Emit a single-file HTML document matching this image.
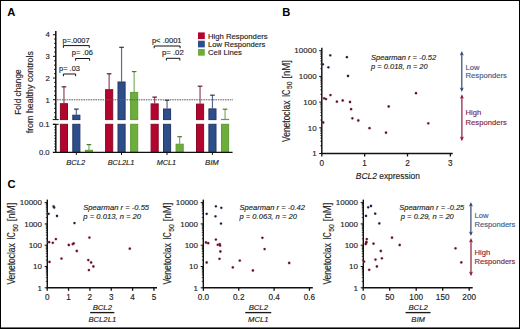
<!DOCTYPE html>
<html><head><meta charset="utf-8"><style>
html,body{margin:0;padding:0;background:#fff;}
body{width:520px;height:329px;overflow:hidden;position:relative;}
svg{display:block;}
#bd{position:absolute;left:0;top:0;}
text{font-family:"Liberation Sans",sans-serif;stroke:currentColor;stroke-width:0.14px;}
</style></head><body>
<svg width="520" height="329" viewBox="0 0 520 329">
<rect width="520" height="329" fill="#fff"/>
<text x="7.20" y="15.90" font-size="11.2" text-anchor="start" fill="#000" color="#000" font-weight="bold" style="stroke:none">A</text>
<text x="282.20" y="16.10" font-size="11.2" text-anchor="start" fill="#000" color="#000" font-weight="bold" style="stroke:none">B</text>
<text x="7.40" y="187.80" font-size="11.2" text-anchor="start" fill="#000" color="#000" font-weight="bold" style="stroke:none">C</text>
<line x1="55.80" y1="31.00" x2="55.80" y2="119.60" stroke="#111" stroke-width="1.5" />
<line x1="55.80" y1="124.30" x2="55.80" y2="152.40" stroke="#111" stroke-width="1.5" />
<line x1="52.70" y1="119.60" x2="58.70" y2="119.60" stroke="#111" stroke-width="1" />
<line x1="52.70" y1="124.30" x2="58.70" y2="124.30" stroke="#111" stroke-width="1" />
<line x1="53.00" y1="99.70" x2="55.80" y2="99.70" stroke="#111" stroke-width="1" />
<text x="49.80" y="102.50" font-size="7.7" text-anchor="end" fill="#222222" color="#222222" >1</text>
<line x1="53.00" y1="78.03" x2="55.80" y2="78.03" stroke="#111" stroke-width="1" />
<text x="49.80" y="80.83" font-size="7.7" text-anchor="end" fill="#222222" color="#222222" >2</text>
<line x1="53.00" y1="56.36" x2="55.80" y2="56.36" stroke="#111" stroke-width="1" />
<text x="49.80" y="59.16" font-size="7.7" text-anchor="end" fill="#222222" color="#222222" >3</text>
<line x1="53.00" y1="34.69" x2="55.80" y2="34.69" stroke="#111" stroke-width="1" />
<text x="49.80" y="37.49" font-size="7.7" text-anchor="end" fill="#222222" color="#222222" >4</text>
<line x1="54.00" y1="117.04" x2="55.80" y2="117.04" stroke="#111" stroke-width="0.9" />
<line x1="54.00" y1="112.70" x2="55.80" y2="112.70" stroke="#111" stroke-width="0.9" />
<line x1="54.00" y1="108.37" x2="55.80" y2="108.37" stroke="#111" stroke-width="0.9" />
<line x1="54.00" y1="104.03" x2="55.80" y2="104.03" stroke="#111" stroke-width="0.9" />
<line x1="54.00" y1="95.37" x2="55.80" y2="95.37" stroke="#111" stroke-width="0.9" />
<line x1="54.00" y1="91.03" x2="55.80" y2="91.03" stroke="#111" stroke-width="0.9" />
<line x1="54.00" y1="86.70" x2="55.80" y2="86.70" stroke="#111" stroke-width="0.9" />
<line x1="54.00" y1="82.36" x2="55.80" y2="82.36" stroke="#111" stroke-width="0.9" />
<line x1="54.00" y1="73.70" x2="55.80" y2="73.70" stroke="#111" stroke-width="0.9" />
<line x1="54.00" y1="69.36" x2="55.80" y2="69.36" stroke="#111" stroke-width="0.9" />
<line x1="54.00" y1="65.03" x2="55.80" y2="65.03" stroke="#111" stroke-width="0.9" />
<line x1="54.00" y1="60.69" x2="55.80" y2="60.69" stroke="#111" stroke-width="0.9" />
<line x1="54.00" y1="52.03" x2="55.80" y2="52.03" stroke="#111" stroke-width="0.9" />
<line x1="54.00" y1="47.69" x2="55.80" y2="47.69" stroke="#111" stroke-width="0.9" />
<line x1="54.00" y1="43.36" x2="55.80" y2="43.36" stroke="#111" stroke-width="0.9" />
<line x1="54.00" y1="39.02" x2="55.80" y2="39.02" stroke="#111" stroke-width="0.9" />
<line x1="54.20" y1="149.59" x2="55.80" y2="149.59" stroke="#111" stroke-width="0.8" />
<line x1="54.20" y1="146.78" x2="55.80" y2="146.78" stroke="#111" stroke-width="0.8" />
<line x1="54.20" y1="143.97" x2="55.80" y2="143.97" stroke="#111" stroke-width="0.8" />
<line x1="54.20" y1="141.16" x2="55.80" y2="141.16" stroke="#111" stroke-width="0.8" />
<line x1="54.20" y1="138.35" x2="55.80" y2="138.35" stroke="#111" stroke-width="0.8" />
<line x1="54.20" y1="135.54" x2="55.80" y2="135.54" stroke="#111" stroke-width="0.8" />
<line x1="54.20" y1="132.73" x2="55.80" y2="132.73" stroke="#111" stroke-width="0.8" />
<line x1="54.20" y1="129.92" x2="55.80" y2="129.92" stroke="#111" stroke-width="0.8" />
<line x1="54.20" y1="127.11" x2="55.80" y2="127.11" stroke="#111" stroke-width="0.8" />
<line x1="53.00" y1="124.30" x2="55.80" y2="124.30" stroke="#111" stroke-width="1" />
<text x="49.60" y="127.10" font-size="7.7" text-anchor="end" fill="#222222" color="#222222" >0.1</text>
<text x="49.60" y="155.20" font-size="7.7" text-anchor="end" fill="#222222" color="#222222" >0.0</text>
<text transform="translate(20.7,92.1) rotate(-90)" font-size="8.6" text-anchor="middle" fill="#222222" color="#222222" textLength="45.4" lengthAdjust="spacingAndGlyphs">Fold change</text>
<text transform="translate(32.6,92.2) rotate(-90)" font-size="8.6" text-anchor="middle" fill="#222222" color="#222222" textLength="82.2" lengthAdjust="spacingAndGlyphs">from healthy controls</text>
<line x1="63.95" y1="86.80" x2="63.95" y2="103.30" stroke="#94455A" stroke-width="1.2" />
<line x1="61.65" y1="86.80" x2="66.25" y2="86.80" stroke="#5A1A2C" stroke-width="1.2" />
<rect x="60.40" y="103.70" width="7.10" height="15.90" fill="#B4052F" stroke="#850A28" stroke-width="1.0"/>
<rect x="60.40" y="124.3" width="7.10" height="28.10" fill="#B4052F" stroke="#850A28" stroke-width="1.0"/>
<line x1="76.35" y1="109.10" x2="76.35" y2="114.80" stroke="#5A6A92" stroke-width="1.2" />
<line x1="74.05" y1="109.10" x2="78.65" y2="109.10" stroke="#2C3250" stroke-width="1.2" />
<rect x="72.80" y="115.20" width="7.10" height="4.40" fill="#2C4F8C" stroke="#283763" stroke-width="1.0"/>
<rect x="72.80" y="124.3" width="7.10" height="28.10" fill="#2C4F8C" stroke="#283763" stroke-width="1.0"/>
<line x1="88.95" y1="144.60" x2="88.95" y2="149.90" stroke="#80AE5E" stroke-width="1.2" />
<line x1="86.65" y1="144.60" x2="91.25" y2="144.60" stroke="#4E7A34" stroke-width="1.2" />
<rect x="85.40" y="150.30" width="7.10" height="2.10" fill="#6DAD3C" stroke="#5F9C34" stroke-width="1.0"/>
<line x1="109.15" y1="73.80" x2="109.15" y2="89.30" stroke="#94455A" stroke-width="1.2" />
<line x1="106.85" y1="73.80" x2="111.45" y2="73.80" stroke="#5A1A2C" stroke-width="1.2" />
<rect x="105.60" y="89.70" width="7.10" height="29.90" fill="#B4052F" stroke="#850A28" stroke-width="1.0"/>
<rect x="105.60" y="124.3" width="7.10" height="28.10" fill="#B4052F" stroke="#850A28" stroke-width="1.0"/>
<line x1="121.55" y1="47.30" x2="121.55" y2="81.60" stroke="#5A6A92" stroke-width="1.2" />
<line x1="119.25" y1="47.30" x2="123.85" y2="47.30" stroke="#2C3250" stroke-width="1.2" />
<rect x="118.00" y="82.00" width="7.10" height="37.60" fill="#2C4F8C" stroke="#283763" stroke-width="1.0"/>
<rect x="118.00" y="124.3" width="7.10" height="28.10" fill="#2C4F8C" stroke="#283763" stroke-width="1.0"/>
<line x1="134.15" y1="71.60" x2="134.15" y2="92.00" stroke="#80AE5E" stroke-width="1.2" />
<line x1="131.85" y1="71.60" x2="136.45" y2="71.60" stroke="#4E7A34" stroke-width="1.2" />
<rect x="130.60" y="92.40" width="7.10" height="27.20" fill="#6DAD3C" stroke="#5F9C34" stroke-width="1.0"/>
<rect x="130.60" y="124.3" width="7.10" height="28.10" fill="#6DAD3C" stroke="#5F9C34" stroke-width="1.0"/>
<line x1="154.65" y1="97.10" x2="154.65" y2="103.50" stroke="#94455A" stroke-width="1.2" />
<line x1="152.35" y1="97.10" x2="156.95" y2="97.10" stroke="#5A1A2C" stroke-width="1.2" />
<rect x="151.10" y="103.90" width="7.10" height="15.70" fill="#B4052F" stroke="#850A28" stroke-width="1.0"/>
<rect x="151.10" y="124.3" width="7.10" height="28.10" fill="#B4052F" stroke="#850A28" stroke-width="1.0"/>
<line x1="167.05" y1="100.30" x2="167.05" y2="108.60" stroke="#5A6A92" stroke-width="1.2" />
<line x1="164.75" y1="100.30" x2="169.35" y2="100.30" stroke="#2C3250" stroke-width="1.2" />
<rect x="163.50" y="109.00" width="7.10" height="10.60" fill="#2C4F8C" stroke="#283763" stroke-width="1.0"/>
<rect x="163.50" y="124.3" width="7.10" height="28.10" fill="#2C4F8C" stroke="#283763" stroke-width="1.0"/>
<line x1="179.65" y1="136.70" x2="179.65" y2="143.80" stroke="#80AE5E" stroke-width="1.2" />
<line x1="177.35" y1="136.70" x2="181.95" y2="136.70" stroke="#4E7A34" stroke-width="1.2" />
<rect x="176.10" y="144.20" width="7.10" height="8.20" fill="#6DAD3C" stroke="#5F9C34" stroke-width="1.0"/>
<line x1="200.05" y1="86.20" x2="200.05" y2="103.70" stroke="#94455A" stroke-width="1.2" />
<line x1="197.75" y1="86.20" x2="202.35" y2="86.20" stroke="#5A1A2C" stroke-width="1.2" />
<rect x="196.50" y="104.10" width="7.10" height="15.50" fill="#B4052F" stroke="#850A28" stroke-width="1.0"/>
<rect x="196.50" y="124.3" width="7.10" height="28.10" fill="#B4052F" stroke="#850A28" stroke-width="1.0"/>
<line x1="212.45" y1="95.20" x2="212.45" y2="108.50" stroke="#5A6A92" stroke-width="1.2" />
<line x1="210.15" y1="95.20" x2="214.75" y2="95.20" stroke="#2C3250" stroke-width="1.2" />
<rect x="208.90" y="108.90" width="7.10" height="10.70" fill="#2C4F8C" stroke="#283763" stroke-width="1.0"/>
<rect x="208.90" y="124.3" width="7.10" height="28.10" fill="#2C4F8C" stroke="#283763" stroke-width="1.0"/>
<line x1="225.05" y1="109.20" x2="225.05" y2="119.00" stroke="#80AE5E" stroke-width="1.2" />
<line x1="222.75" y1="109.20" x2="227.35" y2="109.20" stroke="#4E7A34" stroke-width="1.2" />
<rect x="221.50" y="119.40" width="7.10" height="0.20" fill="#6DAD3C" stroke="#5F9C34" stroke-width="1.0"/>
<rect x="221.50" y="124.3" width="7.10" height="28.10" fill="#6DAD3C" stroke="#5F9C34" stroke-width="1.0"/>
<line x1="57.00" y1="99.80" x2="233.00" y2="99.80" stroke="#5c5c5c" stroke-width="1.0" stroke-dasharray="1.6 0.8"/>
<line x1="52.80" y1="152.40" x2="232.60" y2="152.40" stroke="#111" stroke-width="1.4" />
<line x1="76.30" y1="152.40" x2="76.30" y2="155.00" stroke="#111" stroke-width="1" />
<text x="75.80" y="165.00" font-size="7.9" text-anchor="middle" fill="#222222" color="#222222" font-style="italic" textLength="19.00" lengthAdjust="spacingAndGlyphs" >BCL2</text>
<line x1="121.50" y1="152.40" x2="121.50" y2="155.00" stroke="#111" stroke-width="1" />
<text x="121.00" y="165.00" font-size="7.9" text-anchor="middle" fill="#222222" color="#222222" font-style="italic" textLength="26.60" lengthAdjust="spacingAndGlyphs" >BCL2L1</text>
<line x1="167.00" y1="152.40" x2="167.00" y2="155.00" stroke="#111" stroke-width="1" />
<text x="166.50" y="165.00" font-size="7.9" text-anchor="middle" fill="#222222" color="#222222" font-style="italic" textLength="19.30" lengthAdjust="spacingAndGlyphs" >MCL1</text>
<line x1="212.40" y1="152.40" x2="212.40" y2="155.00" stroke="#111" stroke-width="1" />
<text x="211.90" y="165.00" font-size="7.9" text-anchor="middle" fill="#222222" color="#222222" font-style="italic" textLength="13.80" lengthAdjust="spacingAndGlyphs" >BIM</text>
<rect x="198.00" y="32.40" width="6.80" height="6.70" fill="#B4052F"/>
<rect x="198.00" y="40.70" width="6.80" height="6.70" fill="#2C4F8C"/>
<rect x="198.00" y="49.00" width="6.80" height="6.70" fill="#6DAD3C"/>
<text x="208.00" y="38.70" font-size="7.9" text-anchor="start" fill="#222222" color="#222222" textLength="59.60" lengthAdjust="spacingAndGlyphs" >High Responders</text>
<text x="208.00" y="46.80" font-size="7.9" text-anchor="start" fill="#222222" color="#222222" textLength="57.30" lengthAdjust="spacingAndGlyphs" >Low Responders</text>
<text x="208.00" y="54.90" font-size="7.9" text-anchor="start" fill="#222222" color="#222222" textLength="34.00" lengthAdjust="spacingAndGlyphs" >Cell Lines</text>
<text x="62.60" y="42.80" font-size="7.4" text-anchor="start" fill="#222222" color="#222222" textLength="27.00" lengthAdjust="spacingAndGlyphs" >p=.0007</text>
<path d="M63.40,47.80 L63.40,45.60 L89.30,45.60 L89.30,47.80" fill="none" stroke="#111" stroke-width="1"/>
<text x="71.80" y="55.30" font-size="7.4" text-anchor="start" fill="#222222" color="#222222" textLength="21.20" lengthAdjust="spacingAndGlyphs" >p= .06</text>
<path d="M75.60,60.70 L75.60,58.50 L89.60,58.50 L89.60,60.70" fill="none" stroke="#111" stroke-width="1"/>
<text x="59.00" y="71.40" font-size="7.4" text-anchor="start" fill="#222222" color="#222222" textLength="21.00" lengthAdjust="spacingAndGlyphs" >p= .03</text>
<path d="M63.40,76.20 L63.40,74.00 L75.60,74.00 L75.60,76.20" fill="none" stroke="#111" stroke-width="1"/>
<text x="151.90" y="42.90" font-size="7.4" text-anchor="start" fill="#222222" color="#222222" textLength="29.70" lengthAdjust="spacingAndGlyphs" >p&lt; .0001</text>
<path d="M154.20,48.20 L154.20,46.00 L180.10,46.00 L180.10,48.20" fill="none" stroke="#111" stroke-width="1"/>
<text x="161.90" y="55.30" font-size="7.4" text-anchor="start" fill="#222222" color="#222222" textLength="21.90" lengthAdjust="spacingAndGlyphs" >p= .02</text>
<path d="M166.40,60.50 L166.40,58.30 L179.80,58.30 L179.80,60.50" fill="none" stroke="#111" stroke-width="1"/>
<line x1="321.80" y1="47.70" x2="321.80" y2="153.50" stroke="#111" stroke-width="1.45" />
<line x1="319.20" y1="50.70" x2="321.80" y2="50.70" stroke="#111" stroke-width="1" />
<text x="316.60" y="53.40" font-size="8.0" text-anchor="end" fill="#222222" color="#222222" >10000</text>
<line x1="320.30" y1="68.66" x2="321.80" y2="68.66" stroke="#111" stroke-width="0.8" />
<line x1="320.30" y1="64.14" x2="321.80" y2="64.14" stroke="#111" stroke-width="0.8" />
<line x1="320.30" y1="60.93" x2="321.80" y2="60.93" stroke="#111" stroke-width="0.8" />
<line x1="320.30" y1="58.44" x2="321.80" y2="58.44" stroke="#111" stroke-width="0.8" />
<line x1="320.30" y1="56.40" x2="321.80" y2="56.40" stroke="#111" stroke-width="0.8" />
<line x1="320.30" y1="54.68" x2="321.80" y2="54.68" stroke="#111" stroke-width="0.8" />
<line x1="320.30" y1="53.19" x2="321.80" y2="53.19" stroke="#111" stroke-width="0.8" />
<line x1="320.30" y1="51.88" x2="321.80" y2="51.88" stroke="#111" stroke-width="0.8" />
<line x1="319.20" y1="76.40" x2="321.80" y2="76.40" stroke="#111" stroke-width="1" />
<text x="316.60" y="79.10" font-size="8.0" text-anchor="end" fill="#222222" color="#222222" >1000</text>
<line x1="320.30" y1="94.36" x2="321.80" y2="94.36" stroke="#111" stroke-width="0.8" />
<line x1="320.30" y1="89.84" x2="321.80" y2="89.84" stroke="#111" stroke-width="0.8" />
<line x1="320.30" y1="86.63" x2="321.80" y2="86.63" stroke="#111" stroke-width="0.8" />
<line x1="320.30" y1="84.14" x2="321.80" y2="84.14" stroke="#111" stroke-width="0.8" />
<line x1="320.30" y1="82.10" x2="321.80" y2="82.10" stroke="#111" stroke-width="0.8" />
<line x1="320.30" y1="80.38" x2="321.80" y2="80.38" stroke="#111" stroke-width="0.8" />
<line x1="320.30" y1="78.89" x2="321.80" y2="78.89" stroke="#111" stroke-width="0.8" />
<line x1="320.30" y1="77.58" x2="321.80" y2="77.58" stroke="#111" stroke-width="0.8" />
<line x1="319.20" y1="102.10" x2="321.80" y2="102.10" stroke="#111" stroke-width="1" />
<text x="316.60" y="104.80" font-size="8.0" text-anchor="end" fill="#222222" color="#222222" >100</text>
<line x1="320.30" y1="120.06" x2="321.80" y2="120.06" stroke="#111" stroke-width="0.8" />
<line x1="320.30" y1="115.54" x2="321.80" y2="115.54" stroke="#111" stroke-width="0.8" />
<line x1="320.30" y1="112.33" x2="321.80" y2="112.33" stroke="#111" stroke-width="0.8" />
<line x1="320.30" y1="109.84" x2="321.80" y2="109.84" stroke="#111" stroke-width="0.8" />
<line x1="320.30" y1="107.80" x2="321.80" y2="107.80" stroke="#111" stroke-width="0.8" />
<line x1="320.30" y1="106.08" x2="321.80" y2="106.08" stroke="#111" stroke-width="0.8" />
<line x1="320.30" y1="104.59" x2="321.80" y2="104.59" stroke="#111" stroke-width="0.8" />
<line x1="320.30" y1="103.28" x2="321.80" y2="103.28" stroke="#111" stroke-width="0.8" />
<line x1="319.20" y1="127.80" x2="321.80" y2="127.80" stroke="#111" stroke-width="1" />
<text x="316.60" y="130.50" font-size="8.0" text-anchor="end" fill="#222222" color="#222222" >10</text>
<line x1="320.30" y1="145.76" x2="321.80" y2="145.76" stroke="#111" stroke-width="0.8" />
<line x1="320.30" y1="141.24" x2="321.80" y2="141.24" stroke="#111" stroke-width="0.8" />
<line x1="320.30" y1="138.03" x2="321.80" y2="138.03" stroke="#111" stroke-width="0.8" />
<line x1="320.30" y1="135.54" x2="321.80" y2="135.54" stroke="#111" stroke-width="0.8" />
<line x1="320.30" y1="133.50" x2="321.80" y2="133.50" stroke="#111" stroke-width="0.8" />
<line x1="320.30" y1="131.78" x2="321.80" y2="131.78" stroke="#111" stroke-width="0.8" />
<line x1="320.30" y1="130.29" x2="321.80" y2="130.29" stroke="#111" stroke-width="0.8" />
<line x1="320.30" y1="128.98" x2="321.80" y2="128.98" stroke="#111" stroke-width="0.8" />
<line x1="319.20" y1="153.50" x2="321.80" y2="153.50" stroke="#111" stroke-width="1" />
<text x="316.60" y="156.20" font-size="8.0" text-anchor="end" fill="#222222" color="#222222" >1</text>
<line x1="321.20" y1="153.50" x2="452.70" y2="153.50" stroke="#111" stroke-width="1.45" />
<line x1="321.80" y1="153.50" x2="321.80" y2="156.50" stroke="#111" stroke-width="1.3" />
<text x="321.80" y="165.60" font-size="8.2" text-anchor="middle" fill="#222222" color="#222222" >0</text>
<line x1="364.65" y1="153.50" x2="364.65" y2="156.50" stroke="#111" stroke-width="1.3" />
<text x="364.65" y="165.60" font-size="8.2" text-anchor="middle" fill="#222222" color="#222222" >1</text>
<line x1="407.50" y1="153.50" x2="407.50" y2="156.50" stroke="#111" stroke-width="1.3" />
<text x="407.50" y="165.60" font-size="8.2" text-anchor="middle" fill="#222222" color="#222222" >2</text>
<line x1="450.35" y1="153.50" x2="450.35" y2="156.50" stroke="#111" stroke-width="1.3" />
<text x="450.35" y="165.60" font-size="8.2" text-anchor="middle" fill="#222222" color="#222222" >3</text>
<text transform="translate(289.80,142.00) rotate(-90)" font-size="10.3" fill="#222222" color="#222222" textLength="41.40" lengthAdjust="spacingAndGlyphs">Venetoclax</text>
<text transform="translate(289.80,97.00) rotate(-90)" font-size="10.3" fill="#222222" color="#222222" textLength="7.40" lengthAdjust="spacingAndGlyphs">IC</text>
<text transform="translate(292.40,89.10) rotate(-90)" font-size="7.4" fill="#222222" color="#222222" textLength="7.60" lengthAdjust="spacingAndGlyphs">50</text>
<text transform="translate(289.80,78.60) rotate(-90)" font-size="10.0" fill="#222222" color="#222222" textLength="18.60" lengthAdjust="spacingAndGlyphs">[nM]</text>
<text x="355.8" y="178.6" font-size="9.2" fill="#222222" color="#222222" textLength="64.2" lengthAdjust="spacingAndGlyphs"><tspan font-style="italic">BCL2</tspan> expression</text>
<text x="371.10" y="60.00" font-size="7.5" text-anchor="start" fill="#222222" color="#222222" font-style="italic" textLength="65.10" lengthAdjust="spacingAndGlyphs" >Spearman r = -0.52</text>
<text x="371.10" y="68.50" font-size="7.5" text-anchor="start" fill="#222222" color="#222222" font-style="italic" textLength="56.60" lengthAdjust="spacingAndGlyphs" >p = 0.018, n = 20</text>
<circle cx="330.30" cy="55.30" r="1.65" fill="#8890b0" opacity="0.4"/>
<circle cx="330.30" cy="55.30" r="1.15" fill="#141A36"/>
<circle cx="346.90" cy="57.20" r="1.65" fill="#8890b0" opacity="0.4"/>
<circle cx="346.90" cy="57.20" r="1.15" fill="#141A36"/>
<circle cx="322.90" cy="64.30" r="1.65" fill="#8890b0" opacity="0.4"/>
<circle cx="322.90" cy="64.30" r="1.15" fill="#141A36"/>
<circle cx="328.40" cy="67.30" r="1.65" fill="#8890b0" opacity="0.4"/>
<circle cx="328.40" cy="67.30" r="1.15" fill="#141A36"/>
<circle cx="348.00" cy="76.00" r="1.65" fill="#8890b0" opacity="0.4"/>
<circle cx="348.00" cy="76.00" r="1.15" fill="#141A36"/>
<circle cx="330.50" cy="95.10" r="1.65" fill="#c8607a" opacity="0.4"/>
<circle cx="330.50" cy="95.10" r="1.15" fill="#580B23"/>
<circle cx="324.10" cy="98.30" r="1.65" fill="#c8607a" opacity="0.4"/>
<circle cx="324.10" cy="98.30" r="1.15" fill="#580B23"/>
<circle cx="326.00" cy="99.10" r="1.65" fill="#c8607a" opacity="0.4"/>
<circle cx="326.00" cy="99.10" r="1.15" fill="#580B23"/>
<circle cx="336.90" cy="101.70" r="1.65" fill="#c8607a" opacity="0.4"/>
<circle cx="336.90" cy="101.70" r="1.15" fill="#580B23"/>
<circle cx="342.70" cy="100.50" r="1.65" fill="#c8607a" opacity="0.4"/>
<circle cx="342.70" cy="100.50" r="1.15" fill="#580B23"/>
<circle cx="350.00" cy="102.00" r="1.65" fill="#c8607a" opacity="0.4"/>
<circle cx="350.00" cy="102.00" r="1.15" fill="#580B23"/>
<circle cx="351.10" cy="109.20" r="1.65" fill="#c8607a" opacity="0.4"/>
<circle cx="351.10" cy="109.20" r="1.15" fill="#580B23"/>
<circle cx="352.40" cy="118.30" r="1.65" fill="#c8607a" opacity="0.4"/>
<circle cx="352.40" cy="118.30" r="1.15" fill="#580B23"/>
<circle cx="358.30" cy="120.50" r="1.65" fill="#c8607a" opacity="0.4"/>
<circle cx="358.30" cy="120.50" r="1.15" fill="#580B23"/>
<circle cx="323.20" cy="122.50" r="1.65" fill="#c8607a" opacity="0.4"/>
<circle cx="323.20" cy="122.50" r="1.15" fill="#580B23"/>
<circle cx="369.50" cy="128.20" r="1.65" fill="#c8607a" opacity="0.4"/>
<circle cx="369.50" cy="128.20" r="1.15" fill="#580B23"/>
<circle cx="388.70" cy="106.50" r="1.65" fill="#c8607a" opacity="0.4"/>
<circle cx="388.70" cy="106.50" r="1.15" fill="#580B23"/>
<circle cx="416.00" cy="93.20" r="1.65" fill="#c8607a" opacity="0.4"/>
<circle cx="416.00" cy="93.20" r="1.15" fill="#580B23"/>
<circle cx="386.00" cy="132.70" r="1.65" fill="#c8607a" opacity="0.4"/>
<circle cx="386.00" cy="132.70" r="1.15" fill="#580B23"/>
<circle cx="428.30" cy="123.30" r="1.65" fill="#c8607a" opacity="0.4"/>
<circle cx="428.30" cy="123.30" r="1.15" fill="#580B23"/>
<line x1="461.80" y1="53.00" x2="461.80" y2="90.00" stroke="#34496E" stroke-width="1.2" />
<path d="M459.80,55.60 L461.80,51.00 L463.80,55.60 L461.80,54.60 Z" fill="#34496E"/>
<path d="M459.80,87.40 L461.80,92.00 L463.80,87.40 L461.80,88.40 Z" fill="#34496E"/>
<line x1="461.90" y1="96.20" x2="461.90" y2="139.20" stroke="#8E1A3E" stroke-width="1.2" />
<path d="M459.90,98.80 L461.90,94.20 L463.90,98.80 L461.90,97.80 Z" fill="#8E1A3E"/>
<path d="M459.90,136.60 L461.90,141.20 L463.90,136.60 L461.90,137.60 Z" fill="#8E1A3E"/>
<text x="465.60" y="69.70" font-size="7.6" text-anchor="start" fill="#43587F" color="#43587F" >Low</text>
<text x="465.60" y="78.30" font-size="7.7" text-anchor="start" fill="#43587F" color="#43587F" textLength="41.20" lengthAdjust="spacingAndGlyphs" >Responders</text>
<text x="465.60" y="115.20" font-size="7.6" text-anchor="start" fill="#7E1E40" color="#7E1E40" >High</text>
<text x="465.60" y="124.60" font-size="7.7" text-anchor="start" fill="#7E1E40" color="#7E1E40" textLength="41.20" lengthAdjust="spacingAndGlyphs" >Responders</text>
<line x1="47.30" y1="199.60" x2="47.30" y2="287.80" stroke="#111" stroke-width="1.45" />
<line x1="44.70" y1="202.60" x2="47.30" y2="202.60" stroke="#111" stroke-width="1" />
<text x="42.00" y="205.30" font-size="8.0" text-anchor="end" fill="#222222" color="#222222" >10000</text>
<line x1="45.80" y1="217.49" x2="47.30" y2="217.49" stroke="#111" stroke-width="0.8" />
<line x1="45.80" y1="213.74" x2="47.30" y2="213.74" stroke="#111" stroke-width="0.8" />
<line x1="45.80" y1="211.08" x2="47.30" y2="211.08" stroke="#111" stroke-width="0.8" />
<line x1="45.80" y1="209.01" x2="47.30" y2="209.01" stroke="#111" stroke-width="0.8" />
<line x1="45.80" y1="207.33" x2="47.30" y2="207.33" stroke="#111" stroke-width="0.8" />
<line x1="45.80" y1="205.90" x2="47.30" y2="205.90" stroke="#111" stroke-width="0.8" />
<line x1="45.80" y1="204.66" x2="47.30" y2="204.66" stroke="#111" stroke-width="0.8" />
<line x1="45.80" y1="203.57" x2="47.30" y2="203.57" stroke="#111" stroke-width="0.8" />
<line x1="44.70" y1="223.90" x2="47.30" y2="223.90" stroke="#111" stroke-width="1" />
<text x="42.00" y="226.60" font-size="8.0" text-anchor="end" fill="#222222" color="#222222" >1000</text>
<line x1="45.80" y1="238.79" x2="47.30" y2="238.79" stroke="#111" stroke-width="0.8" />
<line x1="45.80" y1="235.04" x2="47.30" y2="235.04" stroke="#111" stroke-width="0.8" />
<line x1="45.80" y1="232.38" x2="47.30" y2="232.38" stroke="#111" stroke-width="0.8" />
<line x1="45.80" y1="230.31" x2="47.30" y2="230.31" stroke="#111" stroke-width="0.8" />
<line x1="45.80" y1="228.63" x2="47.30" y2="228.63" stroke="#111" stroke-width="0.8" />
<line x1="45.80" y1="227.20" x2="47.30" y2="227.20" stroke="#111" stroke-width="0.8" />
<line x1="45.80" y1="225.96" x2="47.30" y2="225.96" stroke="#111" stroke-width="0.8" />
<line x1="45.80" y1="224.87" x2="47.30" y2="224.87" stroke="#111" stroke-width="0.8" />
<line x1="44.70" y1="245.20" x2="47.30" y2="245.20" stroke="#111" stroke-width="1" />
<text x="42.00" y="247.90" font-size="8.0" text-anchor="end" fill="#222222" color="#222222" >100</text>
<line x1="45.80" y1="260.09" x2="47.30" y2="260.09" stroke="#111" stroke-width="0.8" />
<line x1="45.80" y1="256.34" x2="47.30" y2="256.34" stroke="#111" stroke-width="0.8" />
<line x1="45.80" y1="253.68" x2="47.30" y2="253.68" stroke="#111" stroke-width="0.8" />
<line x1="45.80" y1="251.61" x2="47.30" y2="251.61" stroke="#111" stroke-width="0.8" />
<line x1="45.80" y1="249.93" x2="47.30" y2="249.93" stroke="#111" stroke-width="0.8" />
<line x1="45.80" y1="248.50" x2="47.30" y2="248.50" stroke="#111" stroke-width="0.8" />
<line x1="45.80" y1="247.26" x2="47.30" y2="247.26" stroke="#111" stroke-width="0.8" />
<line x1="45.80" y1="246.17" x2="47.30" y2="246.17" stroke="#111" stroke-width="0.8" />
<line x1="44.70" y1="266.50" x2="47.30" y2="266.50" stroke="#111" stroke-width="1" />
<text x="42.00" y="269.20" font-size="8.0" text-anchor="end" fill="#222222" color="#222222" >10</text>
<line x1="45.80" y1="281.39" x2="47.30" y2="281.39" stroke="#111" stroke-width="0.8" />
<line x1="45.80" y1="277.64" x2="47.30" y2="277.64" stroke="#111" stroke-width="0.8" />
<line x1="45.80" y1="274.98" x2="47.30" y2="274.98" stroke="#111" stroke-width="0.8" />
<line x1="45.80" y1="272.91" x2="47.30" y2="272.91" stroke="#111" stroke-width="0.8" />
<line x1="45.80" y1="271.23" x2="47.30" y2="271.23" stroke="#111" stroke-width="0.8" />
<line x1="45.80" y1="269.80" x2="47.30" y2="269.80" stroke="#111" stroke-width="0.8" />
<line x1="45.80" y1="268.56" x2="47.30" y2="268.56" stroke="#111" stroke-width="0.8" />
<line x1="45.80" y1="267.47" x2="47.30" y2="267.47" stroke="#111" stroke-width="0.8" />
<line x1="44.70" y1="287.80" x2="47.30" y2="287.80" stroke="#111" stroke-width="1" />
<text x="42.00" y="290.50" font-size="8.0" text-anchor="end" fill="#222222" color="#222222" >1</text>
<line x1="46.70" y1="287.80" x2="157.00" y2="287.80" stroke="#111" stroke-width="1.45" />
<line x1="47.20" y1="287.80" x2="47.20" y2="290.80" stroke="#111" stroke-width="1.3" />
<text x="47.20" y="300.00" font-size="8.2" text-anchor="middle" fill="#222222" color="#222222" >0</text>
<line x1="68.55" y1="287.80" x2="68.55" y2="290.80" stroke="#111" stroke-width="1.3" />
<text x="68.55" y="300.00" font-size="8.2" text-anchor="middle" fill="#222222" color="#222222" >1</text>
<line x1="89.90" y1="287.80" x2="89.90" y2="290.80" stroke="#111" stroke-width="1.3" />
<text x="89.90" y="300.00" font-size="8.2" text-anchor="middle" fill="#222222" color="#222222" >2</text>
<line x1="111.25" y1="287.80" x2="111.25" y2="290.80" stroke="#111" stroke-width="1.3" />
<text x="111.25" y="300.00" font-size="8.2" text-anchor="middle" fill="#222222" color="#222222" >3</text>
<line x1="132.60" y1="287.80" x2="132.60" y2="290.80" stroke="#111" stroke-width="1.3" />
<text x="132.60" y="300.00" font-size="8.2" text-anchor="middle" fill="#222222" color="#222222" >4</text>
<line x1="153.95" y1="287.80" x2="153.95" y2="290.80" stroke="#111" stroke-width="1.3" />
<text x="153.95" y="300.00" font-size="8.2" text-anchor="middle" fill="#222222" color="#222222" >5</text>
<text transform="translate(15.10,284.60) rotate(-90)" font-size="10.3" fill="#222222" color="#222222" textLength="41.40" lengthAdjust="spacingAndGlyphs">Venetoclax</text>
<text transform="translate(15.10,239.60) rotate(-90)" font-size="10.3" fill="#222222" color="#222222" textLength="7.40" lengthAdjust="spacingAndGlyphs">IC</text>
<text transform="translate(17.70,231.70) rotate(-90)" font-size="7.4" fill="#222222" color="#222222" textLength="7.60" lengthAdjust="spacingAndGlyphs">50</text>
<text transform="translate(15.10,221.20) rotate(-90)" font-size="10.0" fill="#222222" color="#222222" textLength="18.60" lengthAdjust="spacingAndGlyphs">[nM]</text>
<text x="102.30" y="309.70" font-size="7.7" text-anchor="middle" fill="#222222" color="#222222" font-style="italic" >BCL2</text>
<line x1="90.15" y1="312.60" x2="114.35" y2="312.60" stroke="#1a1a1a" stroke-width="1.35" />
<text x="102.30" y="321.90" font-size="7.7" text-anchor="middle" fill="#222222" color="#222222" font-style="italic" >BCL2L1</text>
<text x="83.30" y="210.20" font-size="7.5" text-anchor="start" fill="#222222" color="#222222" font-style="italic" textLength="65.80" lengthAdjust="spacingAndGlyphs" >Spearman r = -0.55</text>
<text x="83.30" y="218.80" font-size="7.5" text-anchor="start" fill="#222222" color="#222222" font-style="italic" textLength="57.80" lengthAdjust="spacingAndGlyphs" >p = 0.013, n = 20</text>
<circle cx="53.60" cy="206.40" r="1.65" fill="#8890b0" opacity="0.4"/>
<circle cx="53.60" cy="206.40" r="1.15" fill="#141A36"/>
<circle cx="54.20" cy="207.60" r="1.65" fill="#8890b0" opacity="0.4"/>
<circle cx="54.20" cy="207.60" r="1.15" fill="#141A36"/>
<circle cx="57.00" cy="216.00" r="1.65" fill="#8890b0" opacity="0.4"/>
<circle cx="57.00" cy="216.00" r="1.15" fill="#141A36"/>
<circle cx="48.60" cy="213.80" r="1.65" fill="#8890b0" opacity="0.4"/>
<circle cx="48.60" cy="213.80" r="1.15" fill="#141A36"/>
<circle cx="74.50" cy="223.10" r="1.65" fill="#8890b0" opacity="0.4"/>
<circle cx="74.50" cy="223.10" r="1.15" fill="#141A36"/>
<circle cx="49.10" cy="242.20" r="1.65" fill="#c8607a" opacity="0.4"/>
<circle cx="49.10" cy="242.20" r="1.15" fill="#580B23"/>
<circle cx="52.80" cy="242.80" r="1.65" fill="#c8607a" opacity="0.4"/>
<circle cx="52.80" cy="242.80" r="1.15" fill="#580B23"/>
<circle cx="55.90" cy="239.10" r="1.65" fill="#c8607a" opacity="0.4"/>
<circle cx="55.90" cy="239.10" r="1.15" fill="#580B23"/>
<circle cx="68.80" cy="245.00" r="1.65" fill="#c8607a" opacity="0.4"/>
<circle cx="68.80" cy="245.00" r="1.15" fill="#580B23"/>
<circle cx="72.80" cy="244.20" r="1.65" fill="#c8607a" opacity="0.4"/>
<circle cx="72.80" cy="244.20" r="1.15" fill="#580B23"/>
<circle cx="73.70" cy="243.30" r="1.65" fill="#c8607a" opacity="0.4"/>
<circle cx="73.70" cy="243.30" r="1.15" fill="#580B23"/>
<circle cx="89.40" cy="237.60" r="1.65" fill="#c8607a" opacity="0.4"/>
<circle cx="89.40" cy="237.60" r="1.15" fill="#580B23"/>
<circle cx="76.80" cy="251.00" r="1.65" fill="#c8607a" opacity="0.4"/>
<circle cx="76.80" cy="251.00" r="1.15" fill="#580B23"/>
<circle cx="49.50" cy="261.90" r="1.65" fill="#c8607a" opacity="0.4"/>
<circle cx="49.50" cy="261.90" r="1.15" fill="#580B23"/>
<circle cx="61.50" cy="258.60" r="1.65" fill="#c8607a" opacity="0.4"/>
<circle cx="61.50" cy="258.60" r="1.15" fill="#580B23"/>
<circle cx="88.30" cy="260.10" r="1.65" fill="#c8607a" opacity="0.4"/>
<circle cx="88.30" cy="260.10" r="1.15" fill="#580B23"/>
<circle cx="91.10" cy="262.50" r="1.65" fill="#c8607a" opacity="0.4"/>
<circle cx="91.10" cy="262.50" r="1.15" fill="#580B23"/>
<circle cx="93.40" cy="266.50" r="1.65" fill="#c8607a" opacity="0.4"/>
<circle cx="93.40" cy="266.50" r="1.15" fill="#580B23"/>
<circle cx="88.90" cy="270.10" r="1.65" fill="#c8607a" opacity="0.4"/>
<circle cx="88.90" cy="270.10" r="1.15" fill="#580B23"/>
<circle cx="129.80" cy="248.70" r="1.65" fill="#c8607a" opacity="0.4"/>
<circle cx="129.80" cy="248.70" r="1.15" fill="#580B23"/>
<line x1="203.30" y1="199.60" x2="203.30" y2="287.80" stroke="#111" stroke-width="1.45" />
<line x1="200.70" y1="202.60" x2="203.30" y2="202.60" stroke="#111" stroke-width="1" />
<text x="198.00" y="205.30" font-size="8.0" text-anchor="end" fill="#222222" color="#222222" >10000</text>
<line x1="201.80" y1="217.49" x2="203.30" y2="217.49" stroke="#111" stroke-width="0.8" />
<line x1="201.80" y1="213.74" x2="203.30" y2="213.74" stroke="#111" stroke-width="0.8" />
<line x1="201.80" y1="211.08" x2="203.30" y2="211.08" stroke="#111" stroke-width="0.8" />
<line x1="201.80" y1="209.01" x2="203.30" y2="209.01" stroke="#111" stroke-width="0.8" />
<line x1="201.80" y1="207.33" x2="203.30" y2="207.33" stroke="#111" stroke-width="0.8" />
<line x1="201.80" y1="205.90" x2="203.30" y2="205.90" stroke="#111" stroke-width="0.8" />
<line x1="201.80" y1="204.66" x2="203.30" y2="204.66" stroke="#111" stroke-width="0.8" />
<line x1="201.80" y1="203.57" x2="203.30" y2="203.57" stroke="#111" stroke-width="0.8" />
<line x1="200.70" y1="223.90" x2="203.30" y2="223.90" stroke="#111" stroke-width="1" />
<text x="198.00" y="226.60" font-size="8.0" text-anchor="end" fill="#222222" color="#222222" >1000</text>
<line x1="201.80" y1="238.79" x2="203.30" y2="238.79" stroke="#111" stroke-width="0.8" />
<line x1="201.80" y1="235.04" x2="203.30" y2="235.04" stroke="#111" stroke-width="0.8" />
<line x1="201.80" y1="232.38" x2="203.30" y2="232.38" stroke="#111" stroke-width="0.8" />
<line x1="201.80" y1="230.31" x2="203.30" y2="230.31" stroke="#111" stroke-width="0.8" />
<line x1="201.80" y1="228.63" x2="203.30" y2="228.63" stroke="#111" stroke-width="0.8" />
<line x1="201.80" y1="227.20" x2="203.30" y2="227.20" stroke="#111" stroke-width="0.8" />
<line x1="201.80" y1="225.96" x2="203.30" y2="225.96" stroke="#111" stroke-width="0.8" />
<line x1="201.80" y1="224.87" x2="203.30" y2="224.87" stroke="#111" stroke-width="0.8" />
<line x1="200.70" y1="245.20" x2="203.30" y2="245.20" stroke="#111" stroke-width="1" />
<text x="198.00" y="247.90" font-size="8.0" text-anchor="end" fill="#222222" color="#222222" >100</text>
<line x1="201.80" y1="260.09" x2="203.30" y2="260.09" stroke="#111" stroke-width="0.8" />
<line x1="201.80" y1="256.34" x2="203.30" y2="256.34" stroke="#111" stroke-width="0.8" />
<line x1="201.80" y1="253.68" x2="203.30" y2="253.68" stroke="#111" stroke-width="0.8" />
<line x1="201.80" y1="251.61" x2="203.30" y2="251.61" stroke="#111" stroke-width="0.8" />
<line x1="201.80" y1="249.93" x2="203.30" y2="249.93" stroke="#111" stroke-width="0.8" />
<line x1="201.80" y1="248.50" x2="203.30" y2="248.50" stroke="#111" stroke-width="0.8" />
<line x1="201.80" y1="247.26" x2="203.30" y2="247.26" stroke="#111" stroke-width="0.8" />
<line x1="201.80" y1="246.17" x2="203.30" y2="246.17" stroke="#111" stroke-width="0.8" />
<line x1="200.70" y1="266.50" x2="203.30" y2="266.50" stroke="#111" stroke-width="1" />
<text x="198.00" y="269.20" font-size="8.0" text-anchor="end" fill="#222222" color="#222222" >10</text>
<line x1="201.80" y1="281.39" x2="203.30" y2="281.39" stroke="#111" stroke-width="0.8" />
<line x1="201.80" y1="277.64" x2="203.30" y2="277.64" stroke="#111" stroke-width="0.8" />
<line x1="201.80" y1="274.98" x2="203.30" y2="274.98" stroke="#111" stroke-width="0.8" />
<line x1="201.80" y1="272.91" x2="203.30" y2="272.91" stroke="#111" stroke-width="0.8" />
<line x1="201.80" y1="271.23" x2="203.30" y2="271.23" stroke="#111" stroke-width="0.8" />
<line x1="201.80" y1="269.80" x2="203.30" y2="269.80" stroke="#111" stroke-width="0.8" />
<line x1="201.80" y1="268.56" x2="203.30" y2="268.56" stroke="#111" stroke-width="0.8" />
<line x1="201.80" y1="267.47" x2="203.30" y2="267.47" stroke="#111" stroke-width="0.8" />
<line x1="200.70" y1="287.80" x2="203.30" y2="287.80" stroke="#111" stroke-width="1" />
<text x="198.00" y="290.50" font-size="8.0" text-anchor="end" fill="#222222" color="#222222" >1</text>
<line x1="202.70" y1="287.80" x2="312.80" y2="287.80" stroke="#111" stroke-width="1.45" />
<line x1="203.40" y1="287.80" x2="203.40" y2="290.80" stroke="#111" stroke-width="1.3" />
<text x="203.40" y="300.00" font-size="8.2" text-anchor="middle" fill="#222222" color="#222222" >0.0</text>
<line x1="238.75" y1="287.80" x2="238.75" y2="290.80" stroke="#111" stroke-width="1.3" />
<text x="238.75" y="300.00" font-size="8.2" text-anchor="middle" fill="#222222" color="#222222" >0.2</text>
<line x1="274.10" y1="287.80" x2="274.10" y2="290.80" stroke="#111" stroke-width="1.3" />
<text x="274.10" y="300.00" font-size="8.2" text-anchor="middle" fill="#222222" color="#222222" >0.4</text>
<line x1="309.45" y1="287.80" x2="309.45" y2="290.80" stroke="#111" stroke-width="1.3" />
<text x="309.45" y="300.00" font-size="8.2" text-anchor="middle" fill="#222222" color="#222222" >0.6</text>
<text transform="translate(171.30,284.60) rotate(-90)" font-size="10.3" fill="#222222" color="#222222" textLength="41.40" lengthAdjust="spacingAndGlyphs">Venetoclax</text>
<text transform="translate(171.30,239.60) rotate(-90)" font-size="10.3" fill="#222222" color="#222222" textLength="7.40" lengthAdjust="spacingAndGlyphs">IC</text>
<text transform="translate(173.90,231.70) rotate(-90)" font-size="7.4" fill="#222222" color="#222222" textLength="7.60" lengthAdjust="spacingAndGlyphs">50</text>
<text transform="translate(171.30,221.20) rotate(-90)" font-size="10.0" fill="#222222" color="#222222" textLength="18.60" lengthAdjust="spacingAndGlyphs">[nM]</text>
<text x="258.30" y="309.70" font-size="7.7" text-anchor="middle" fill="#222222" color="#222222" font-style="italic" >BCL2</text>
<line x1="245.25" y1="312.60" x2="271.25" y2="312.60" stroke="#1a1a1a" stroke-width="1.35" />
<text x="258.30" y="321.90" font-size="7.7" text-anchor="middle" fill="#222222" color="#222222" font-style="italic" >MCL1</text>
<text x="239.50" y="210.10" font-size="7.5" text-anchor="start" fill="#222222" color="#222222" font-style="italic" textLength="65.40" lengthAdjust="spacingAndGlyphs" >Spearman r = -0.42</text>
<text x="239.50" y="218.70" font-size="7.5" text-anchor="start" fill="#222222" color="#222222" font-style="italic" textLength="57.40" lengthAdjust="spacingAndGlyphs" >p = 0.063, n = 20</text>
<circle cx="215.90" cy="206.30" r="1.65" fill="#8890b0" opacity="0.4"/>
<circle cx="215.90" cy="206.30" r="1.15" fill="#141A36"/>
<circle cx="221.30" cy="207.80" r="1.65" fill="#8890b0" opacity="0.4"/>
<circle cx="221.30" cy="207.80" r="1.15" fill="#141A36"/>
<circle cx="206.70" cy="213.80" r="1.65" fill="#8890b0" opacity="0.4"/>
<circle cx="206.70" cy="213.80" r="1.15" fill="#141A36"/>
<circle cx="215.50" cy="216.30" r="1.65" fill="#8890b0" opacity="0.4"/>
<circle cx="215.50" cy="216.30" r="1.15" fill="#141A36"/>
<circle cx="221.00" cy="223.60" r="1.65" fill="#8890b0" opacity="0.4"/>
<circle cx="221.00" cy="223.60" r="1.15" fill="#141A36"/>
<circle cx="215.90" cy="239.60" r="1.65" fill="#c8607a" opacity="0.4"/>
<circle cx="215.90" cy="239.60" r="1.15" fill="#580B23"/>
<circle cx="206.00" cy="242.50" r="1.65" fill="#c8607a" opacity="0.4"/>
<circle cx="206.00" cy="242.50" r="1.15" fill="#580B23"/>
<circle cx="208.20" cy="243.20" r="1.65" fill="#c8607a" opacity="0.4"/>
<circle cx="208.20" cy="243.20" r="1.15" fill="#580B23"/>
<circle cx="217.80" cy="244.80" r="1.65" fill="#c8607a" opacity="0.4"/>
<circle cx="217.80" cy="244.80" r="1.15" fill="#580B23"/>
<circle cx="219.70" cy="244.10" r="1.65" fill="#c8607a" opacity="0.4"/>
<circle cx="219.70" cy="244.10" r="1.15" fill="#580B23"/>
<circle cx="220.10" cy="245.60" r="1.65" fill="#c8607a" opacity="0.4"/>
<circle cx="220.10" cy="245.60" r="1.15" fill="#580B23"/>
<circle cx="220.40" cy="251.50" r="1.65" fill="#c8607a" opacity="0.4"/>
<circle cx="220.40" cy="251.50" r="1.15" fill="#580B23"/>
<circle cx="219.50" cy="258.80" r="1.65" fill="#c8607a" opacity="0.4"/>
<circle cx="219.50" cy="258.80" r="1.15" fill="#580B23"/>
<circle cx="206.70" cy="262.50" r="1.65" fill="#c8607a" opacity="0.4"/>
<circle cx="206.70" cy="262.50" r="1.15" fill="#580B23"/>
<circle cx="239.80" cy="260.60" r="1.65" fill="#c8607a" opacity="0.4"/>
<circle cx="239.80" cy="260.60" r="1.15" fill="#580B23"/>
<circle cx="232.80" cy="267.40" r="1.65" fill="#c8607a" opacity="0.4"/>
<circle cx="232.80" cy="267.40" r="1.15" fill="#580B23"/>
<circle cx="252.90" cy="270.50" r="1.65" fill="#c8607a" opacity="0.4"/>
<circle cx="252.90" cy="270.50" r="1.15" fill="#580B23"/>
<circle cx="262.40" cy="237.80" r="1.65" fill="#c8607a" opacity="0.4"/>
<circle cx="262.40" cy="237.80" r="1.15" fill="#580B23"/>
<circle cx="264.60" cy="249.10" r="1.65" fill="#c8607a" opacity="0.4"/>
<circle cx="264.60" cy="249.10" r="1.15" fill="#580B23"/>
<circle cx="289.20" cy="263.00" r="1.65" fill="#c8607a" opacity="0.4"/>
<circle cx="289.20" cy="263.00" r="1.15" fill="#580B23"/>
<line x1="363.30" y1="199.60" x2="363.30" y2="287.80" stroke="#111" stroke-width="1.45" />
<line x1="360.70" y1="202.60" x2="363.30" y2="202.60" stroke="#111" stroke-width="1" />
<text x="358.00" y="205.30" font-size="8.0" text-anchor="end" fill="#222222" color="#222222" >10000</text>
<line x1="361.80" y1="217.49" x2="363.30" y2="217.49" stroke="#111" stroke-width="0.8" />
<line x1="361.80" y1="213.74" x2="363.30" y2="213.74" stroke="#111" stroke-width="0.8" />
<line x1="361.80" y1="211.08" x2="363.30" y2="211.08" stroke="#111" stroke-width="0.8" />
<line x1="361.80" y1="209.01" x2="363.30" y2="209.01" stroke="#111" stroke-width="0.8" />
<line x1="361.80" y1="207.33" x2="363.30" y2="207.33" stroke="#111" stroke-width="0.8" />
<line x1="361.80" y1="205.90" x2="363.30" y2="205.90" stroke="#111" stroke-width="0.8" />
<line x1="361.80" y1="204.66" x2="363.30" y2="204.66" stroke="#111" stroke-width="0.8" />
<line x1="361.80" y1="203.57" x2="363.30" y2="203.57" stroke="#111" stroke-width="0.8" />
<line x1="360.70" y1="223.90" x2="363.30" y2="223.90" stroke="#111" stroke-width="1" />
<text x="358.00" y="226.60" font-size="8.0" text-anchor="end" fill="#222222" color="#222222" >1000</text>
<line x1="361.80" y1="238.79" x2="363.30" y2="238.79" stroke="#111" stroke-width="0.8" />
<line x1="361.80" y1="235.04" x2="363.30" y2="235.04" stroke="#111" stroke-width="0.8" />
<line x1="361.80" y1="232.38" x2="363.30" y2="232.38" stroke="#111" stroke-width="0.8" />
<line x1="361.80" y1="230.31" x2="363.30" y2="230.31" stroke="#111" stroke-width="0.8" />
<line x1="361.80" y1="228.63" x2="363.30" y2="228.63" stroke="#111" stroke-width="0.8" />
<line x1="361.80" y1="227.20" x2="363.30" y2="227.20" stroke="#111" stroke-width="0.8" />
<line x1="361.80" y1="225.96" x2="363.30" y2="225.96" stroke="#111" stroke-width="0.8" />
<line x1="361.80" y1="224.87" x2="363.30" y2="224.87" stroke="#111" stroke-width="0.8" />
<line x1="360.70" y1="245.20" x2="363.30" y2="245.20" stroke="#111" stroke-width="1" />
<text x="358.00" y="247.90" font-size="8.0" text-anchor="end" fill="#222222" color="#222222" >100</text>
<line x1="361.80" y1="260.09" x2="363.30" y2="260.09" stroke="#111" stroke-width="0.8" />
<line x1="361.80" y1="256.34" x2="363.30" y2="256.34" stroke="#111" stroke-width="0.8" />
<line x1="361.80" y1="253.68" x2="363.30" y2="253.68" stroke="#111" stroke-width="0.8" />
<line x1="361.80" y1="251.61" x2="363.30" y2="251.61" stroke="#111" stroke-width="0.8" />
<line x1="361.80" y1="249.93" x2="363.30" y2="249.93" stroke="#111" stroke-width="0.8" />
<line x1="361.80" y1="248.50" x2="363.30" y2="248.50" stroke="#111" stroke-width="0.8" />
<line x1="361.80" y1="247.26" x2="363.30" y2="247.26" stroke="#111" stroke-width="0.8" />
<line x1="361.80" y1="246.17" x2="363.30" y2="246.17" stroke="#111" stroke-width="0.8" />
<line x1="360.70" y1="266.50" x2="363.30" y2="266.50" stroke="#111" stroke-width="1" />
<text x="358.00" y="269.20" font-size="8.0" text-anchor="end" fill="#222222" color="#222222" >10</text>
<line x1="361.80" y1="281.39" x2="363.30" y2="281.39" stroke="#111" stroke-width="0.8" />
<line x1="361.80" y1="277.64" x2="363.30" y2="277.64" stroke="#111" stroke-width="0.8" />
<line x1="361.80" y1="274.98" x2="363.30" y2="274.98" stroke="#111" stroke-width="0.8" />
<line x1="361.80" y1="272.91" x2="363.30" y2="272.91" stroke="#111" stroke-width="0.8" />
<line x1="361.80" y1="271.23" x2="363.30" y2="271.23" stroke="#111" stroke-width="0.8" />
<line x1="361.80" y1="269.80" x2="363.30" y2="269.80" stroke="#111" stroke-width="0.8" />
<line x1="361.80" y1="268.56" x2="363.30" y2="268.56" stroke="#111" stroke-width="0.8" />
<line x1="361.80" y1="267.47" x2="363.30" y2="267.47" stroke="#111" stroke-width="0.8" />
<line x1="360.70" y1="287.80" x2="363.30" y2="287.80" stroke="#111" stroke-width="1" />
<text x="358.00" y="290.50" font-size="8.0" text-anchor="end" fill="#222222" color="#222222" >1</text>
<line x1="362.70" y1="287.80" x2="472.70" y2="287.80" stroke="#111" stroke-width="1.45" />
<line x1="363.20" y1="287.80" x2="363.20" y2="290.80" stroke="#111" stroke-width="1.3" />
<text x="363.20" y="300.00" font-size="8.2" text-anchor="middle" fill="#222222" color="#222222" >0</text>
<line x1="389.70" y1="287.80" x2="389.70" y2="290.80" stroke="#111" stroke-width="1.3" />
<text x="389.70" y="300.00" font-size="8.2" text-anchor="middle" fill="#222222" color="#222222" >50</text>
<line x1="416.20" y1="287.80" x2="416.20" y2="290.80" stroke="#111" stroke-width="1.3" />
<text x="416.20" y="300.00" font-size="8.2" text-anchor="middle" fill="#222222" color="#222222" >100</text>
<line x1="442.70" y1="287.80" x2="442.70" y2="290.80" stroke="#111" stroke-width="1.3" />
<text x="442.70" y="300.00" font-size="8.2" text-anchor="middle" fill="#222222" color="#222222" >150</text>
<line x1="469.20" y1="287.80" x2="469.20" y2="290.80" stroke="#111" stroke-width="1.3" />
<text x="469.20" y="300.00" font-size="8.2" text-anchor="middle" fill="#222222" color="#222222" >200</text>
<text transform="translate(331.20,284.60) rotate(-90)" font-size="10.3" fill="#222222" color="#222222" textLength="41.40" lengthAdjust="spacingAndGlyphs">Venetoclax</text>
<text transform="translate(331.20,239.60) rotate(-90)" font-size="10.3" fill="#222222" color="#222222" textLength="7.40" lengthAdjust="spacingAndGlyphs">IC</text>
<text transform="translate(333.80,231.70) rotate(-90)" font-size="7.4" fill="#222222" color="#222222" textLength="7.60" lengthAdjust="spacingAndGlyphs">50</text>
<text transform="translate(331.20,221.20) rotate(-90)" font-size="10.0" fill="#222222" color="#222222" textLength="18.60" lengthAdjust="spacingAndGlyphs">[nM]</text>
<text x="418.10" y="309.70" font-size="7.7" text-anchor="middle" fill="#222222" color="#222222" font-style="italic" >BCL2</text>
<line x1="405.55" y1="312.60" x2="430.55" y2="312.60" stroke="#1a1a1a" stroke-width="1.35" />
<text x="418.10" y="321.90" font-size="7.7" text-anchor="middle" fill="#222222" color="#222222" font-style="italic" >BIM</text>
<text x="399.20" y="210.10" font-size="7.5" text-anchor="start" fill="#222222" color="#222222" font-style="italic" textLength="65.10" lengthAdjust="spacingAndGlyphs" >Spearman r = -0.25</text>
<text x="400.80" y="218.70" font-size="7.5" text-anchor="start" fill="#222222" color="#222222" font-style="italic" textLength="53.00" lengthAdjust="spacingAndGlyphs" >p = 0.29, n = 20</text>
<circle cx="368.20" cy="207.30" r="1.65" fill="#8890b0" opacity="0.4"/>
<circle cx="368.20" cy="207.30" r="1.15" fill="#141A36"/>
<circle cx="371.00" cy="206.00" r="1.65" fill="#8890b0" opacity="0.4"/>
<circle cx="371.00" cy="206.00" r="1.15" fill="#141A36"/>
<circle cx="375.20" cy="213.70" r="1.65" fill="#8890b0" opacity="0.4"/>
<circle cx="375.20" cy="213.70" r="1.15" fill="#141A36"/>
<circle cx="366.00" cy="215.90" r="1.65" fill="#8890b0" opacity="0.4"/>
<circle cx="366.00" cy="215.90" r="1.15" fill="#141A36"/>
<circle cx="379.30" cy="223.40" r="1.65" fill="#8890b0" opacity="0.4"/>
<circle cx="379.30" cy="223.40" r="1.15" fill="#141A36"/>
<circle cx="366.80" cy="239.10" r="1.65" fill="#c8607a" opacity="0.4"/>
<circle cx="366.80" cy="239.10" r="1.15" fill="#580B23"/>
<circle cx="366.40" cy="241.90" r="1.65" fill="#c8607a" opacity="0.4"/>
<circle cx="366.40" cy="241.90" r="1.15" fill="#580B23"/>
<circle cx="365.70" cy="244.10" r="1.65" fill="#c8607a" opacity="0.4"/>
<circle cx="365.70" cy="244.10" r="1.15" fill="#580B23"/>
<circle cx="373.50" cy="243.70" r="1.65" fill="#c8607a" opacity="0.4"/>
<circle cx="373.50" cy="243.70" r="1.15" fill="#580B23"/>
<circle cx="392.00" cy="237.70" r="1.65" fill="#c8607a" opacity="0.4"/>
<circle cx="392.00" cy="237.70" r="1.15" fill="#580B23"/>
<circle cx="399.70" cy="245.00" r="1.65" fill="#c8607a" opacity="0.4"/>
<circle cx="399.70" cy="245.00" r="1.15" fill="#580B23"/>
<circle cx="380.80" cy="251.00" r="1.65" fill="#c8607a" opacity="0.4"/>
<circle cx="380.80" cy="251.00" r="1.15" fill="#580B23"/>
<circle cx="381.90" cy="258.30" r="1.65" fill="#c8607a" opacity="0.4"/>
<circle cx="381.90" cy="258.30" r="1.15" fill="#580B23"/>
<circle cx="375.50" cy="259.60" r="1.65" fill="#c8607a" opacity="0.4"/>
<circle cx="375.50" cy="259.60" r="1.15" fill="#580B23"/>
<circle cx="364.10" cy="261.60" r="1.65" fill="#c8607a" opacity="0.4"/>
<circle cx="364.10" cy="261.60" r="1.15" fill="#580B23"/>
<circle cx="376.90" cy="266.50" r="1.65" fill="#c8607a" opacity="0.4"/>
<circle cx="376.90" cy="266.50" r="1.15" fill="#580B23"/>
<circle cx="369.20" cy="269.80" r="1.65" fill="#c8607a" opacity="0.4"/>
<circle cx="369.20" cy="269.80" r="1.15" fill="#580B23"/>
<circle cx="455.50" cy="248.30" r="1.65" fill="#c8607a" opacity="0.4"/>
<circle cx="455.50" cy="248.30" r="1.15" fill="#580B23"/>
<circle cx="461.30" cy="262.40" r="1.65" fill="#c8607a" opacity="0.4"/>
<circle cx="461.30" cy="262.40" r="1.15" fill="#580B23"/>
<circle cx="366.20" cy="242.80" r="1.65" fill="#c8607a" opacity="0.4"/>
<circle cx="366.20" cy="242.80" r="1.15" fill="#580B23"/>
<line x1="470.90" y1="204.00" x2="470.90" y2="234.00" stroke="#34496E" stroke-width="1.2" />
<path d="M468.90,206.60 L470.90,202.00 L472.90,206.60 L470.90,205.60 Z" fill="#34496E"/>
<path d="M468.90,231.40 L470.90,236.00 L472.90,231.40 L470.90,232.40 Z" fill="#34496E"/>
<line x1="471.00" y1="240.00" x2="471.00" y2="274.20" stroke="#8E1A3E" stroke-width="1.2" />
<path d="M469.00,242.60 L471.00,238.00 L473.00,242.60 L471.00,241.60 Z" fill="#8E1A3E"/>
<path d="M469.00,271.60 L471.00,276.20 L473.00,271.60 L471.00,272.60 Z" fill="#8E1A3E"/>
<text x="474.60" y="217.50" font-size="7.6" text-anchor="start" fill="#43587F" color="#43587F" >Low</text>
<text x="474.60" y="226.60" font-size="7.7" text-anchor="start" fill="#43587F" color="#43587F" textLength="40.80" lengthAdjust="spacingAndGlyphs" >Responders</text>
<text x="474.60" y="255.10" font-size="7.6" text-anchor="start" fill="#7E1E40" color="#7E1E40" >High</text>
<text x="474.60" y="263.80" font-size="7.7" text-anchor="start" fill="#7E1E40" color="#7E1E40" textLength="40.80" lengthAdjust="spacingAndGlyphs" >Responders</text>
</svg>
<svg id="bd" width="520" height="329" viewBox="0 0 520 329"><rect x="0" y="0" width="520" height="1" fill="#000"/><rect x="0" y="0" width="1" height="329" fill="#000"/><rect x="519" y="0" width="1" height="329" fill="#000"/><rect x="0" y="327.45" width="520" height="1.55" fill="#000"/></svg>
</body></html>
